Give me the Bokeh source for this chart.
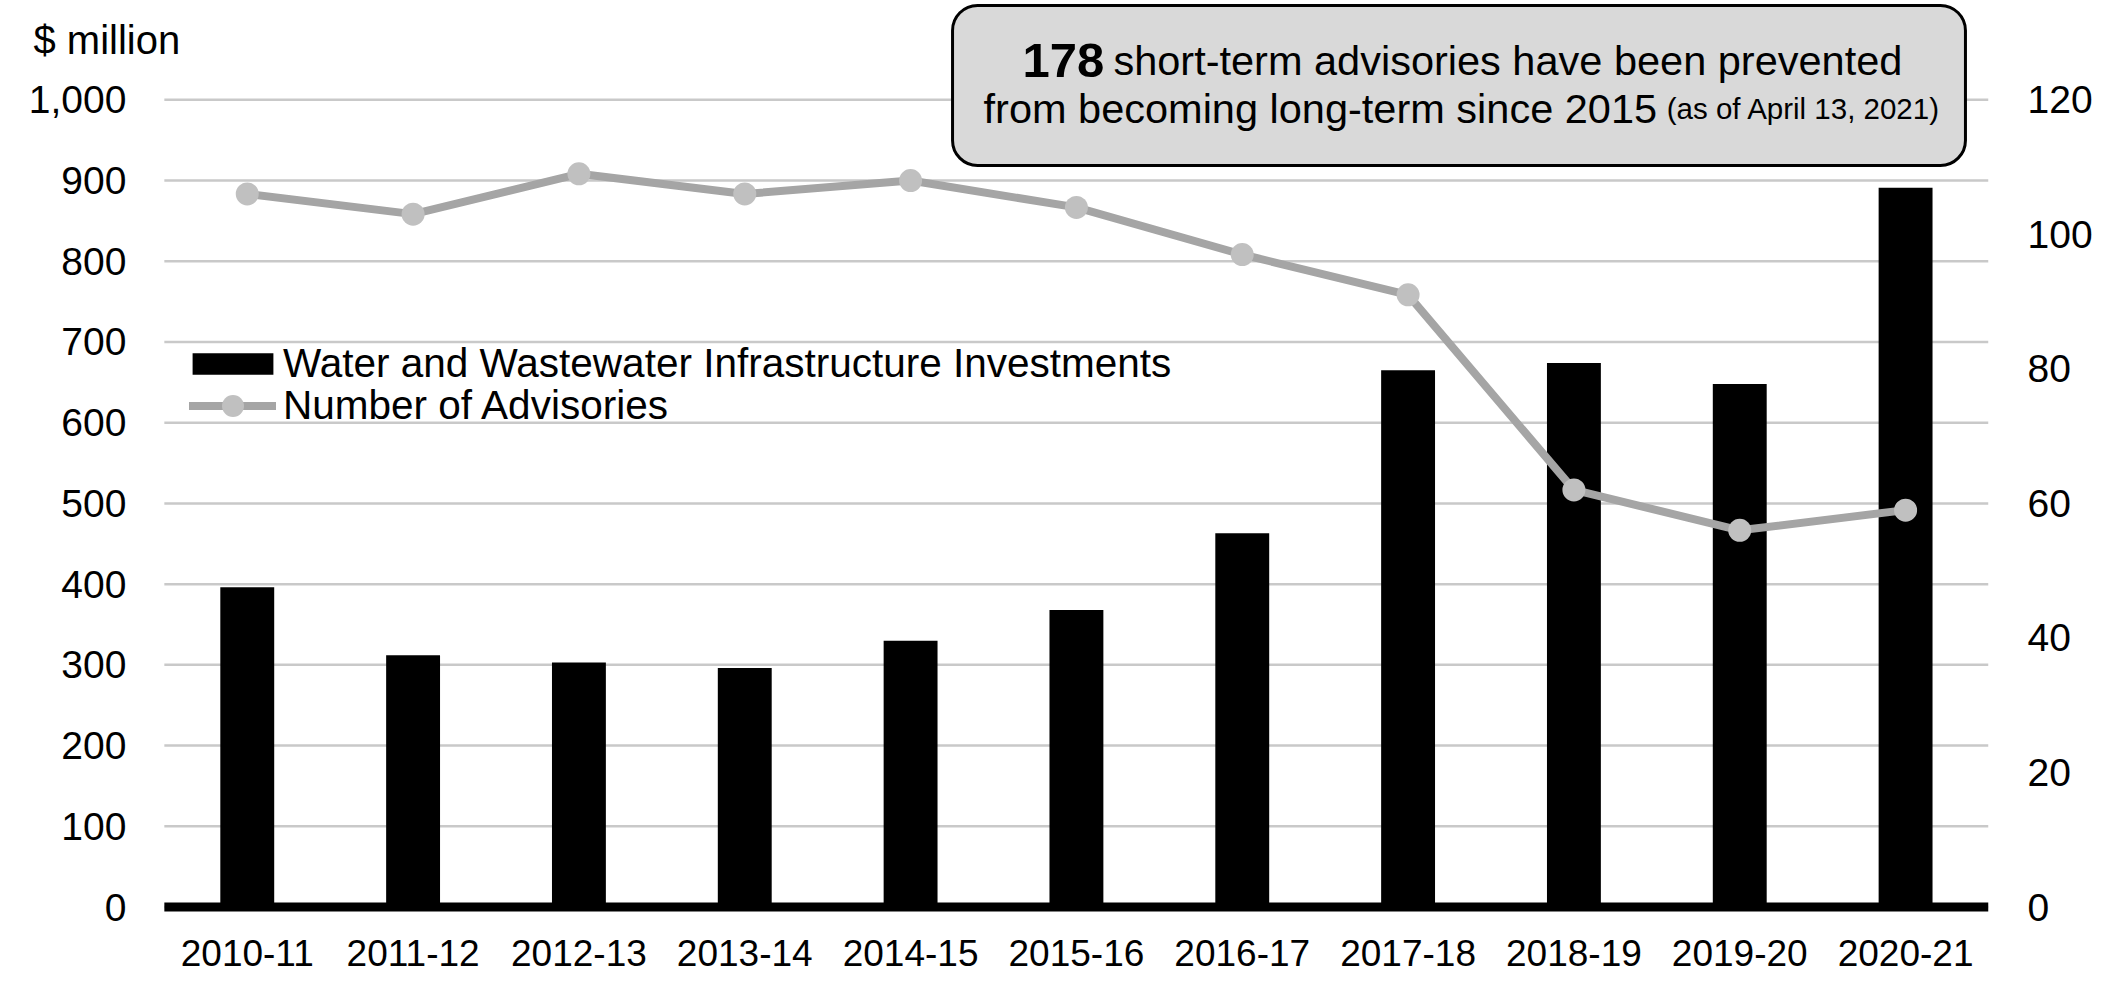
from bokeh.plotting import figure
from bokeh.models import (Range1d, LinearAxis, FixedTicker, Legend, LegendItem,
                          BoxAnnotation, Label)
from bokeh.core.properties import value
from bokeh.embed import file_html
from bokeh.resources import INLINE

# ---------------- data ----------------
categories = ["2010-11", "2011-12", "2012-13", "2013-14", "2014-15", "2015-16",
              "2016-17", "2017-18", "2018-19", "2019-20", "2020-21"]
investments = [396, 312, 303, 296, 330, 368, 463, 665, 674, 648, 891]   # $ million
advisories = [106, 103, 109, 106, 108, 104, 97, 91, 62, 56, 59]          # number
left_ticks = [0, 100, 200, 300, 400, 500, 600, 700, 800, 900, 1000]
left_tick_labels = ["0", "100", "200", "300", "400", "500", "600", "700", "800", "900", "1,000"]
right_ticks = [0, 20, 40, 60, 80, 100, 120]
bar_label = "Water and Wastewater Infrastructure Investments"
line_label = "Number of Advisories"

FONT = "Liberation Sans"
idx = list(range(len(categories)))
n_cat = len(categories)

# ---------------- geometry ----------------
X0, X1 = -1.488, n_cat - 0.5          # frame spans whole canvas width up to the right axis
Y0, Y1 = -26.6, 1123.0
RATIO = 120 / 1000                     # right axis (advisories) vs left axis ($ million)

p = figure(width=2095, height=988, output_backend="svg", toolbar_location=None,
           x_range=Range1d(X0, X1), y_range=Range1d(Y0, Y1), y_axis_location=None,
           min_border_left=0, min_border_right=105, min_border_top=0,
           min_border_bottom=60)
p.extra_y_ranges = {"adv": Range1d(Y0 * RATIO, Y1 * RATIO)}
p.outline_line_color = None
p.background_fill_color = "white"
p.border_fill_color = "white"
p.xgrid.grid_line_color = None
p.ygrid.grid_line_color = None

# bottom axis (categories)
xa = p.xaxis[0]
xa.ticker = FixedTicker(ticks=idx)
xa.major_label_overrides = {i: c for i, c in zip(idx, categories)}
# right axis (advisories)
ra = LinearAxis(y_range_name="adv", ticker=FixedTicker(ticks=right_ticks))
p.add_layout(ra, "right")

for ax, size, stand in ((xa, "37px", 5), (ra, "39px", 33)):
    ax.axis_line_color = None
    ax.major_tick_line_color = None
    ax.minor_tick_line_color = None
    ax.major_label_text_font = FONT
    ax.major_label_text_font_size = size
    ax.major_label_text_color = "black"
    ax.major_label_standoff = stand

# horizontal gridlines at the left-axis ticks
p.segment(x0=[-0.5] * len(left_ticks), x1=[n_cat - 0.5] * len(left_ticks),
          y0=left_ticks, y1=left_ticks, line_color="#c9c9c9", line_width=2.5)

# left-axis tick labels ($ million)
p.text(x=[-0.729] * len(left_ticks), y=left_ticks, text=left_tick_labels,
       text_align="right", text_baseline="middle", text_font=value(FONT),
       text_font_size="39px", text_color="black")

# bars
r_bar = p.vbar(x=idx, top=investments, width=0.325, fill_color="black", line_color=None)

# thick zero line
p.segment(x0=[-0.5], x1=[n_cat - 0.5], y0=[0], y1=[0], line_color="black",
          line_width=9, line_cap="butt")

# advisories line
r_line = p.line(x=idx, y=advisories, y_range_name="adv", line_color="#a5a5a5",
                line_width=8, line_join="round", line_cap="round")
r_pts = p.scatter(x=idx, y=advisories, y_range_name="adv", size=23,
                  fill_color="#c0c0c0", line_color=None)

# legends
common = dict(padding=0, margin=0, spacing=0, border_line_color=None,
              background_fill_alpha=0, label_text_font=FONT,
              label_text_font_size="40.5px", label_text_color="black")
leg1 = Legend(items=[LegendItem(label=bar_label, renderers=[r_bar])],
              location=(182, 540), glyph_width=101, glyph_height=27,
              label_height=50, label_standoff=0, **common)
leg2 = Legend(items=[LegendItem(label=line_label, renderers=[r_line, r_pts])],
              location=(189, 495), glyph_width=87, glyph_height=55,
              label_height=55, label_standoff=7, **common)
p.add_layout(leg1)
p.add_layout(leg2)

# callout box
box = BoxAnnotation(left=4.253, right=10.361, bottom=918.6, top=1116.9,
                    fill_color="#d9d9d9", fill_alpha=1, line_color="black",
                    line_alpha=1, line_width=3, border_radius=25)
p.add_layout(box)

txt = dict(text_font=FONT, text_baseline="alphabetic", text_align="left",
           text_color="black")
p.add_layout(Label(x=4.675, y=1048.7, text="178", text_font_style="bold",
                   text_font_size="49px", **txt))
p.add_layout(Label(x=5.223, y=1048.7, text="short-term advisories have been prevented",
                   text_font_size="41.5px", **txt))
p.add_layout(Label(x=4.440, y=989.2, text="from becoming long-term since 2015",
                   text_font_size="41.5px", **txt))
p.add_layout(Label(x=8.560, y=989.2, text="(as of April 13, 2021)",
                   text_font_size="29.5px", **txt))

# unit label
p.add_layout(Label(x=-1.289, y=1073.5, text="$ million", text_font_size="40px", **txt))

open("out.html", "w").write(file_html(p, INLINE))
